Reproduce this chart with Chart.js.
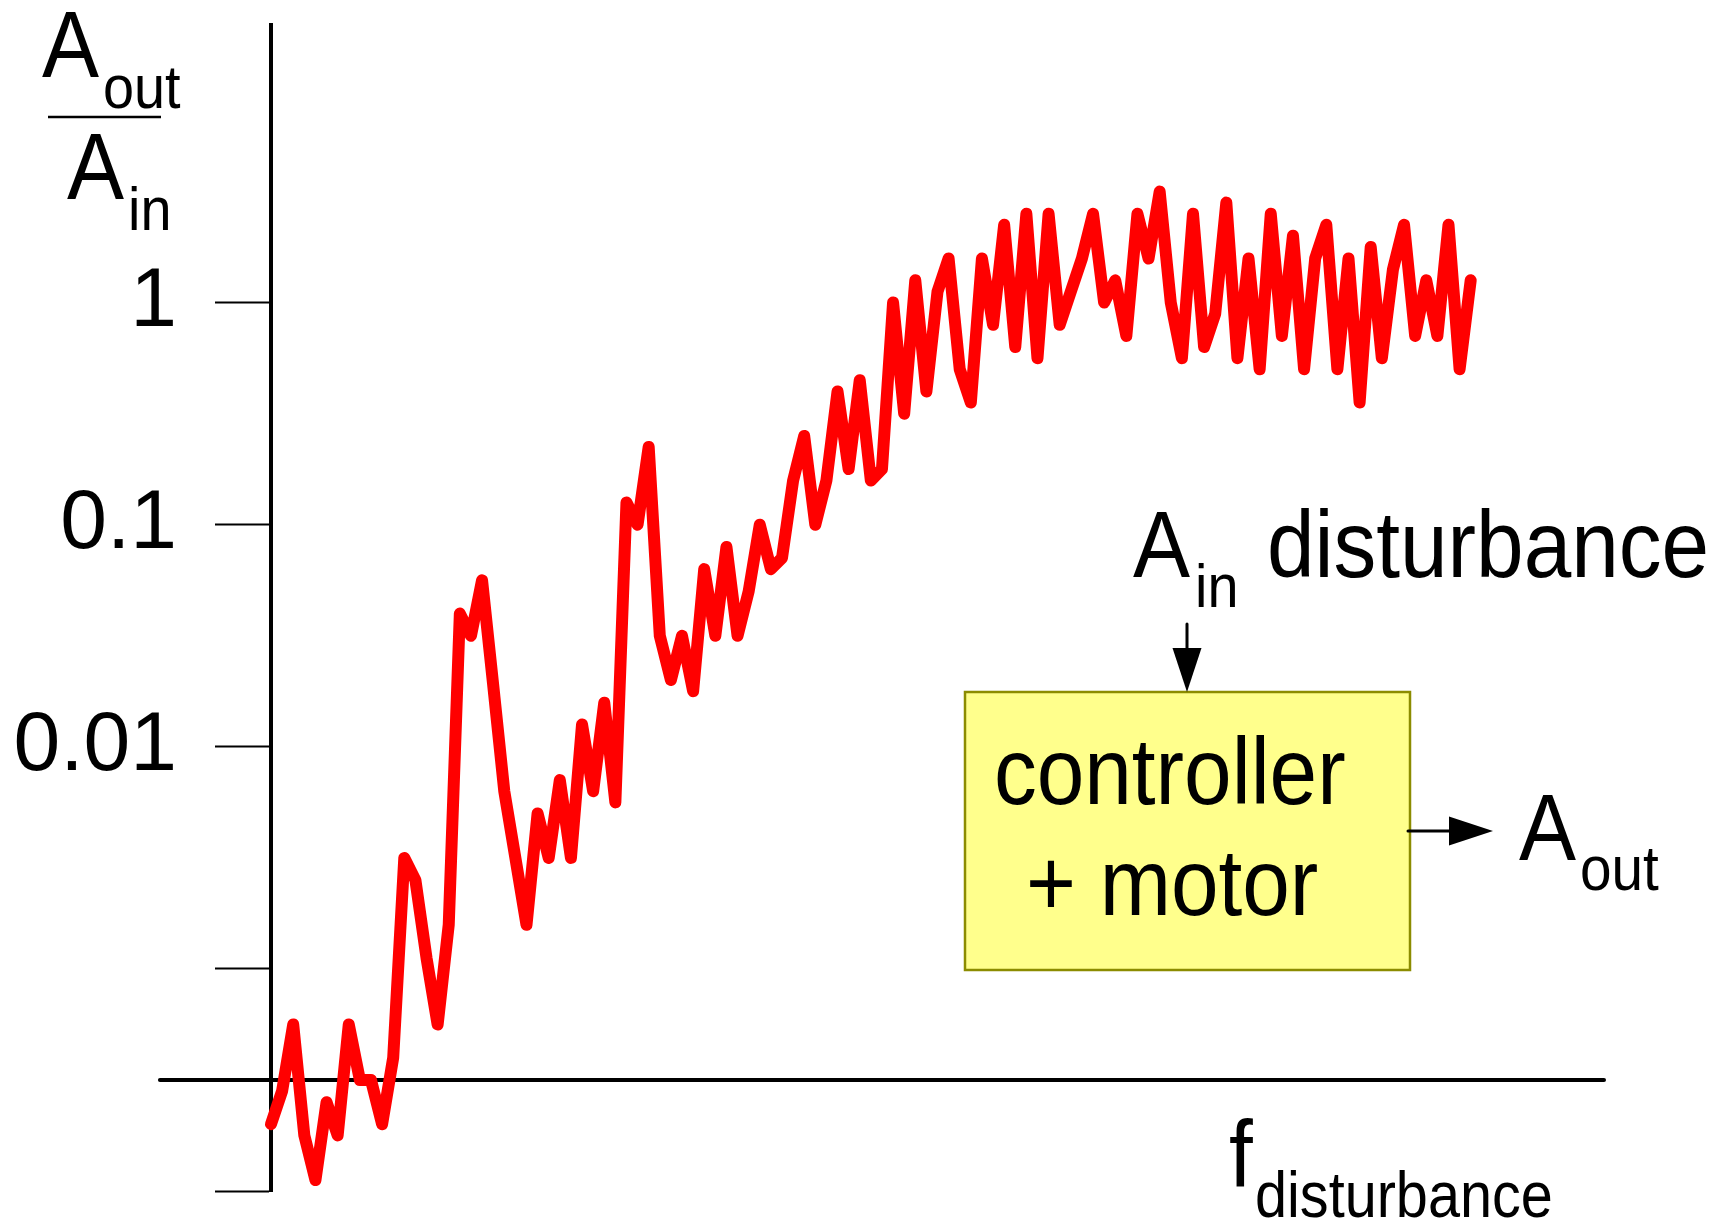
<!DOCTYPE html>
<html>
<head>
<meta charset="utf-8">
<title>Aout / Ain over disturbance frequency</title>
<script src="https://cdn.jsdelivr.net/npm/chart.js@4.4.0/dist/chart.umd.min.js"></script>
<style>
  html, body { margin: 0; padding: 0; background: #fff; }
  #wrap { width: 1726px; height: 1223px; }
</style>
</head>
<body>
<div id="wrap"><canvas id="myChart"></canvas></div>
<script>
// Aout/Ain, one value per frequency step (equal steps)
const gain = [
    2.00e-4, 2.82e-4, 5.62e-4, 1.78e-4, 1.12e-4, 2.51e-4, 1.78e-4, 5.62e-4, 3.16e-4, 3.16e-4,
    2.00e-4, 3.98e-4, 3.16e-3, 2.51e-3, 1.12e-3, 5.62e-4, 1.58e-3, 3.98e-2, 3.16e-2, 5.62e-2,
    1.90e-2, 6.31e-3, 3.16e-3, 1.58e-3, 5.01e-3, 3.16e-3, 7.08e-3, 3.16e-3, 1.26e-2, 6.31e-3,
    1.58e-2, 5.62e-3, 0.126, 0.100, 0.224, 3.16e-2, 2.00e-2, 3.16e-2, 1.78e-2, 6.31e-2,
    3.16e-2, 7.94e-2, 3.16e-2, 5.01e-2, 0.100, 6.31e-2, 7.08e-2, 0.158, 0.251, 0.100,
    0.158, 0.398, 0.178, 0.447, 0.158, 0.178, 1.00, 0.316, 1.26, 0.398,
    1.12, 1.58, 0.501, 0.355, 1.58, 0.794, 2.24, 0.631, 2.51, 0.562,
    2.51, 0.794, 1.12, 1.58, 2.51, 1.00, 1.26, 0.708, 2.51, 1.58,
    3.16, 1.00, 0.562, 2.51, 0.631, 0.891, 2.82, 0.562, 1.58, 0.501,
    2.51, 0.708, 2.00, 0.501, 1.58, 2.24, 0.501, 1.58, 0.355, 1.78,
    0.562, 1.41, 2.24, 0.708, 1.26, 0.708, 2.24, 0.501, 1.26
]
const tickValues = [0.0001, 0.001, 0.01, 0.1, 1]
const tickLabels = ['', '', '0.01', '0.1', '1']
const yMin = 0.0001
const yMax = 17.78          // 10^1.25, top of the axis
const axisCross = 0.000316  // the f axis is drawn at 10^-3.5
const xAxisSpan = [-10, 120]

const FONT = '"Liberation Sans", Arial, Helvetica, sans-serif'

function drawText(ctx, str, x, y, size) {
    ctx.save()
    ctx.translate(x, y)
    ctx.scale(0.9, 1)   // the original lettering is a bit narrow
    ctx.font = size + 'px ' + FONT
    ctx.fillStyle = '#000'
    ctx.textAlign = 'left'
    ctx.textBaseline = 'alphabetic'
    ctx.fillText(str, 0, 0)
    ctx.restore()
}

function drawArrow(ctx, x1, y1, x2, y2) {
    var len = 44, half = 14.5
    var dx = x2 - x1, dy = y2 - y1
    var d = Math.sqrt(dx * dx + dy * dy)
    var ux = dx / d, uy = dy / d
    var bx = x2 - ux * len, by = y2 - uy * len

    ctx.save()
    ctx.strokeStyle = '#000'
    ctx.lineWidth = 3
    ctx.lineCap = 'round'
    ctx.beginPath()
    ctx.moveTo(x1, y1)
    ctx.lineTo(bx + ux * 4, by + uy * 4)
    ctx.stroke()
    ctx.fillStyle = '#000'
    ctx.beginPath()
    ctx.moveTo(x2, y2)
    ctx.lineTo(bx - uy * half, by + ux * half)
    ctx.lineTo(bx + uy * half, by - ux * half)
    ctx.closePath()
    ctx.fill()
    ctx.restore()
}

const diagram = {
    id: 'diagram',
    beforeDatasetsDraw(chart) {
        // horizontal f axis
        var ctx = chart.ctx
        var xs = chart.scales.x, ys = chart.scales.y
        var yy = ys.getPixelForValue(axisCross)
        ctx.save()
        ctx.strokeStyle = '#000'
        ctx.lineWidth = 4
        ctx.lineCap = 'round'
        ctx.beginPath()
        ctx.moveTo(xs.getPixelForValue(xAxisSpan[0]), yy)
        ctx.lineTo(xs.getPixelForValue(xAxisSpan[1]), yy)
        ctx.stroke()
        ctx.restore()
    },
    afterDraw(chart) {
        var ctx = chart.ctx

        // y axis title: Aout / Ain
        drawText(ctx, 'A', 42, 77, 95)
        drawText(ctx, 'out', 103, 108, 62)
        ctx.save()
        ctx.strokeStyle = '#000'
        ctx.lineWidth = 2.5
        ctx.beginPath()
        ctx.moveTo(48, 117)
        ctx.lineTo(161, 117)
        ctx.stroke()
        ctx.restore()
        drawText(ctx, 'A', 67, 199, 95)
        drawText(ctx, 'in', 128, 230, 62)

        // x axis title
        drawText(ctx, 'f', 1229, 1187, 95)
        drawText(ctx, 'disturbance', 1255, 1217, 64)

        // block diagram
        ctx.save()
        ctx.fillStyle = '#ffff8c'
        ctx.strokeStyle = '#8c8c00'
        ctx.lineWidth = 2.5
        ctx.fillRect(965, 692, 445, 278)
        ctx.strokeRect(965, 692, 445, 278)
        ctx.restore()
        drawText(ctx, 'controller', 994, 804, 95)
        drawText(ctx, '+ motor', 1026, 915, 95)

        drawText(ctx, 'A', 1133, 577, 95)
        drawText(ctx, 'in', 1195, 607, 62)
        drawText(ctx, 'disturbance', 1267, 577, 95)
        drawArrow(ctx, 1187, 624, 1187, 692)

        drawArrow(ctx, 1408, 831, 1493, 831)
        drawText(ctx, 'A', 1519, 860, 95)
        drawText(ctx, 'out', 1580, 890, 63)
    }
}

const points = gain.map(function (g, i) { return { x: i, y: g } })

const config = {
    type: 'line',
    data: {
        datasets: [{
            data: points,
            borderColor: '#ff0000',
            borderWidth: 12,
            borderJoinStyle: 'round',
            borderCapStyle: 'round',
            pointRadius: 0,
            tension: 0,
            fill: false,
            clip: false
        }]
    },
    options: {
        responsive: true,
        maintainAspectRatio: false,
        animation: false,
        layout: { padding: { left: 0, top: 25, right: 122, bottom: 32 } },
        plugins: {
            legend: { display: false },
            tooltip: { enabled: false }
        },
        scales: {
            x: { type: 'linear', min: 0, max: xAxisSpan[1], display: false },
            y: {
                type: 'logarithmic',
                min: yMin,
                max: yMax,
                afterBuildTicks: function (s) {
                    s.ticks = tickValues.map(function (v) { return { value: v } })
                },
                afterFit: function (s) {
                    s.width = 271
                    s.paddingTop = 0
                    s.paddingBottom = 0
                },
                border: { display: true, color: '#000', width: 4 },
                grid: {
                    drawOnChartArea: false,
                    drawTicks: true,
                    tickLength: 56,
                    tickWidth: 2,
                    tickColor: '#000'
                },
                ticks: {
                    autoSkip: false,
                    padding: 38,
                    color: '#000',
                    font: { family: FONT, size: 84 },
                    callback: function (v, i) { return tickLabels[i] }
                }
            }
        }
    },
    plugins: [diagram]
}

const myChart = new Chart(document.getElementById('myChart'), config)
</script>
</body>
</html>
